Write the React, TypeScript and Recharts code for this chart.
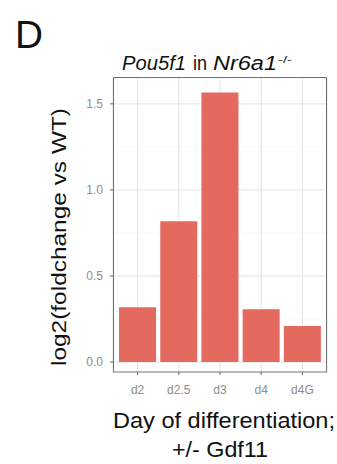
import React from 'react';
import { BarChart, Bar, XAxis, YAxis, CartesianGrid } from 'recharts';

const categories = ['d2', 'd2.5', 'd3', 'd4', 'd4G'];
const foldchange = [0.318, 0.818, 1.566, 0.306, 0.209];
const yTicks = [0, 0.5, 1.0, 1.5];
const yMinorTicks = [0.25, 0.75, 1.25];

const data = categories.map((c, i) => ({ day: c, value: foldchange[i] }));

const FONT = '"Liberation Sans", Arial, Helvetica, sans-serif';

export default function App() {
  return (
    <div style={{ position: 'absolute', left: 0, top: 0, width: 337, height: 464, background: '#fff', fontFamily: FONT }}>
      <BarChart
        width={337}
        height={464}
        data={data}
        margin={{ top: 78, right: 10, left: 73, bottom: 62 }}
        barCategoryGap="5%"
      >
        <CartesianGrid
          horizontalValues={yMinorTicks}
          vertical={false}
          stroke="#f1f1f1"
          strokeWidth={0.6}
        />
        <CartesianGrid
          horizontalValues={yTicks}
          vertical={true}
          stroke="#e3e3e3"
          strokeWidth={1}
        />
        <XAxis
          dataKey="day"
          height={30}
          padding={{ left: 4, right: 4 }}
          axisLine={false}
          tickLine={{ stroke: '#666' }}
          tickSize={3}
          tickMargin={10}
          tick={{ fill: '#8c8c8c', fontSize: 12, fontFamily: FONT }}
          interval={0}
        />
        <YAxis
          width={40}
          type="number"
          domain={[-0.058, 1.65]}
          allowDataOverflow
          ticks={yTicks}
          tickFormatter={(v: number) => v.toFixed(1)}
          axisLine={false}
          tickLine={{ stroke: '#666' }}
          tickSize={3}
          tickMargin={7}
          tick={{ fill: '#8c8c8c', fontSize: 12, fontFamily: FONT }}
        />
        <Bar dataKey="value" fill="#E4695F" isAnimationActive={false} />
      </BarChart>
      <svg
        width={337}
        height={464}
        style={{ position: 'absolute', left: 0, top: 0, pointerEvents: 'none' }}
      >
        <rect x={113.5} y={77.5} width={213} height={294.5} fill="none" stroke="#707070" strokeWidth={1} />
        <text x={15} y={48} fontSize={39} fontFamily={FONT} fill="#111" textLength={28} lengthAdjust="spacingAndGlyphs">D</text>
        <text x={122} y={70} fontSize={20} fontFamily={FONT} fontStyle="italic" fill="#111" textLength={64} lengthAdjust="spacingAndGlyphs">Pou5f1</text>
        <text x={193} y={70} fontSize={20} fontFamily={FONT} fill="#111" textLength={14} lengthAdjust="spacingAndGlyphs">in</text>
        <text x={213} y={70} fontSize={20} fontFamily={FONT} fontStyle="italic" fill="#111" textLength={64} lengthAdjust="spacingAndGlyphs">Nr6a1</text>
        <text x={278} y={63} fontSize={9} fontFamily={FONT} fill="#111" textLength={14} lengthAdjust="spacingAndGlyphs">-/-</text>
        <text
          x={0}
          y={0}
          transform="translate(66,237) rotate(-90)"
          textAnchor="middle"
          fontSize={21}
          fontFamily={FONT}
          fill="#111"
          textLength={258}
          lengthAdjust="spacingAndGlyphs"
        >
          log2(foldchange vs WT)
        </text>
        <text x={113} y={428} fontSize={22} fontFamily={FONT} fill="#111" textLength={222} lengthAdjust="spacingAndGlyphs">Day of differentiation;</text>
        <text x={172} y={457} fontSize={22} fontFamily={FONT} fill="#111" textLength={96} lengthAdjust="spacingAndGlyphs">+/- Gdf11</text>
      </svg>
    </div>
  );
}
